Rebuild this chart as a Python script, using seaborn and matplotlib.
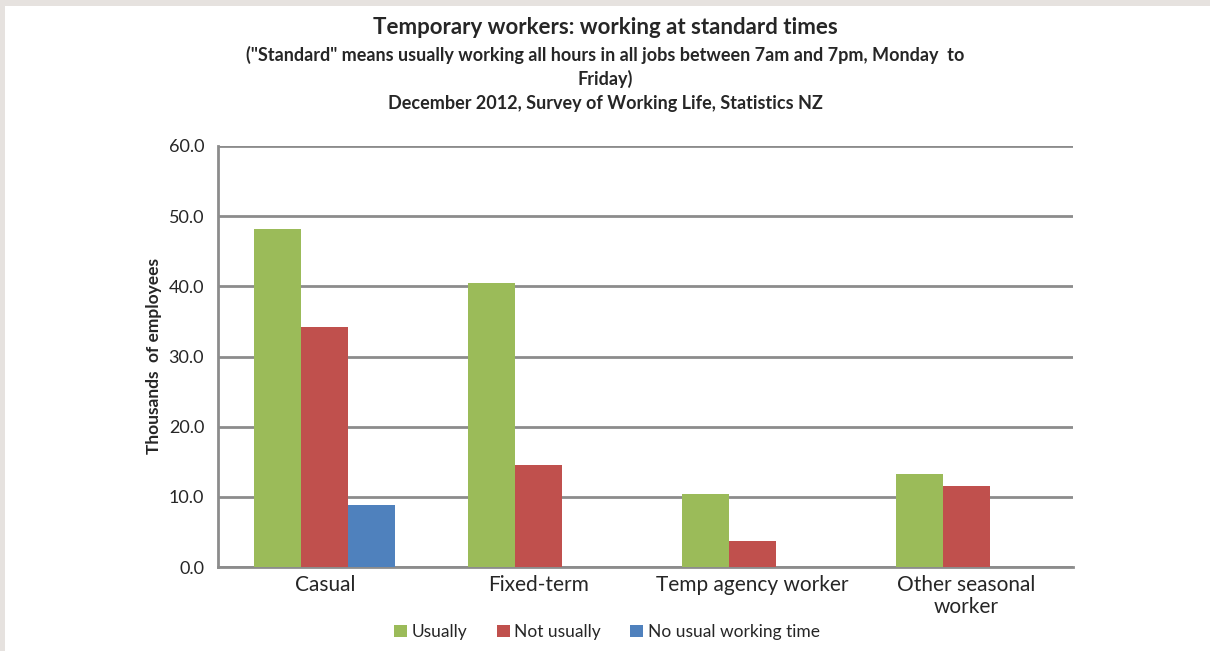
import pandas as pd
import numpy as np
import seaborn as sns
import matplotlib.pyplot as plt
from matplotlib.patches import Rectangle

categories = ['Casual', 'Fixed-term', 'Temp agency worker', 'Other seasonal\nworker']
usually = [48.1, 40.5, 10.4, 13.2]
not_usually = [34.2, 14.5, 3.7, 11.5]
no_usual_time = [8.8, np.nan, np.nan, np.nan]
series = ['Usually', 'Not usually', 'No usual working time']
colors = ['#9BBB59', '#C0504D', '#4F81BD']

rows = []
for name, vals in zip(series, [usually, not_usually, no_usual_time]):
    for cat, v in zip(categories, vals):
        rows.append({'Category': cat, 'Series': name, 'Value': v})
df = pd.DataFrame(rows)

sns.set_style('white')
plt.rcParams['font.family'] = ['Lato', 'DejaVu Sans']

fig = plt.figure(figsize=(12.1, 6.51), dpi=100)
fig.patch.set_facecolor('#E6E2DF')
fig.add_artist(Rectangle((5 / 1210, 0), 1, 1 - 6 / 651, transform=fig.transFigure,
                         facecolor='white', edgecolor='none', zorder=0))
ax = fig.add_axes([218 / 1210, 84 / 651, 855 / 1210, 421 / 651])

sns.barplot(data=df, x='Category', y='Value', hue='Series', order=categories,
            hue_order=series, palette=colors, width=0.66, saturation=1,
            linewidth=0, dodge=True, ax=ax, zorder=3)

grey = '#8C8C8C'
ax.set_ylim(0, 60)
ax.set_xlim(-0.5, 3.5)
ax.set_yticks(np.arange(0, 61, 10))
ax.set_yticklabels([f'{v:.1f}' for v in np.arange(0, 61, 10)], fontsize=13)
ax.yaxis.grid(True, color=grey, linewidth=2)
ax.set_axisbelow(True)
for s in ['top', 'right']:
    ax.spines[s].set_visible(False)
for s in ['left', 'bottom']:
    ax.spines[s].set_color(grey)
    ax.spines[s].set_linewidth(2)
ax.tick_params(axis='y', length=6, width=2, color=grey, pad=4)
ax.tick_params(axis='x', which='major', length=0, labelsize=15, pad=6)
for lbl in ax.get_xticklabels():
    lbl.set_linespacing(1.1)
ax.set_xticks(np.arange(-0.5, 3.6, 1), minor=True)
ax.tick_params(axis='x', which='minor', length=6, width=2, color=grey)
ax.set_xlabel('')
ax.set_ylabel('Thousands  of employees', fontsize=12.5, fontweight='bold', labelpad=5)

fig.text(0.5, 1 - 28 / 651, 'Temporary workers: working at standard times',
         ha='center', va='center', fontsize=16, fontweight='bold')
fig.text(0.5, 1 - 55 / 651,
         '("Standard" means usually working all hours in all jobs between 7am and 7pm, Monday  to',
         ha='center', va='center', fontsize=13, fontweight='bold')
fig.text(0.5, 1 - 79 / 651, 'Friday)', ha='center', va='center', fontsize=13, fontweight='bold')
fig.text(0.5, 1 - 103 / 651, 'December 2012, Survey of Working Life, Statistics NZ',
         ha='center', va='center', fontsize=13, fontweight='bold')

ax.legend(loc='center', bbox_to_anchor=(607 / 1210, 1 - 632 / 651),
          bbox_transform=fig.transFigure, ncol=3, frameon=False, fontsize=12.5,
          handlelength=0.75, handleheight=0.75, handletextpad=0.25, columnspacing=1.7)

fig.savefig('out.png', dpi=100)
